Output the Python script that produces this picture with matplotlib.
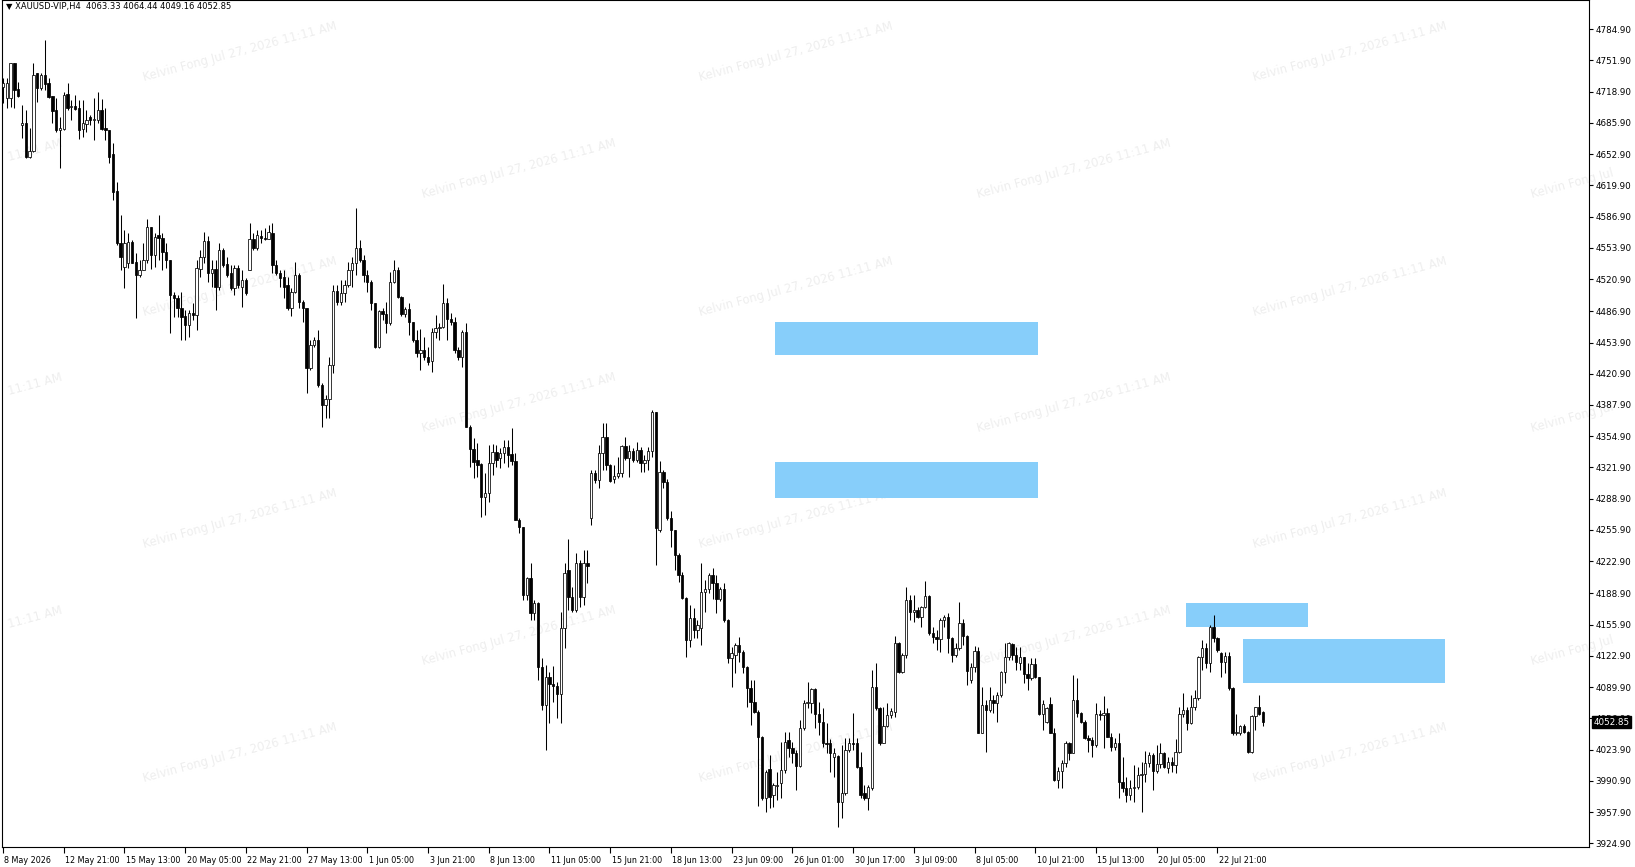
import numpy as np
import matplotlib
matplotlib.use("Agg")
import matplotlib.pyplot as plt
import matplotlib.transforms as mtransforms
from matplotlib.patches import Rectangle

# ---------------- data (XAUUSD-VIP, H4) ----------------
opens = [
    4724.1, 4711.8, 4711.8, 4748.8, 4721.3, 4683.7, 4686.1, 4650.2, 4656.5, 4738.2,
    4722.4, 4736.5, 4727.7, 4714.3, 4699.5, 4678.4, 4679.1, 4716.4, 4702.3, 4703.7,
    4701.3, 4679.1, 4684.7, 4691.7, 4688.9, 4688.9, 4699.5, 4680.1, 4678.4, 4653.0,
    4614.3, 4558.7, 4534.0, 4537.5, 4560.1, 4538.6, 4525.2, 4530.5, 4541.0, 4576.3,
    4546.3, 4567.5, 4563.9, 4549.9, 4541.0, 4504.1, 4500.6, 4490.0, 4481.9, 4472.4,
    4484.7, 4483.0, 4531.2, 4544.6, 4561.5, 4527.7, 4531.2, 4512.9, 4551.6, 4537.0,
    4527.0, 4511.1, 4532.2, 4512.9, 4519.9, 4530.5, 4562.9, 4553.4, 4566.4, 4563.9,
    4562.9, 4569.2, 4535.8, 4527.0, 4522.7, 4514.7, 4490.0, 4507.6, 4525.0, 4497.0,
    4490.0, 4426.6, 4451.3, 4456.6, 4409.0, 4387.9, 4393.9, 4430.1, 4508.3, 4497.0,
    4505.8, 4514.7, 4530.5, 4537.5, 4553.4, 4541.1, 4525.2, 4518.2, 4495.3, 4449.5,
    4487.5, 4484.0, 4474.2, 4518.2, 4530.5, 4502.3, 4484.0, 4488.9, 4475.9, 4456.6,
    4442.5, 4446.0, 4438.2, 4434.7, 4465.4, 4469.6, 4470.6, 4495.3, 4478.4, 4475.9,
    4446.0, 4439.0, 4465.4, 4365.0, 4341.1, 4329.8, 4326.0, 4291.1, 4294.6, 4326.3,
    4338.6, 4331.6, 4336.8, 4343.2, 4336.0, 4329.1, 4266.4, 4259.4, 4187.3, 4204.9,
    4167.9, 4178.5, 4111.6, 4071.1, 4101.0, 4093.2, 4091.1, 4082.3, 4152.0, 4213.7,
    4185.5, 4171.4, 4220.7, 4185.5, 4220.7, 4268.2, 4316.5, 4308.7, 4336.9, 4354.5,
    4324.6, 4309.4, 4313.0, 4315.8, 4344.6, 4331.6, 4339.4, 4329.9, 4340.4, 4326.3,
    4329.9, 4339.4, 4380.9, 4256.0, 4317.5, 4307.0, 4268.2, 4255.9, 4229.5, 4208.4,
    4183.7, 4139.7, 4162.6, 4150.3, 4152.0, 4190.8, 4193.2, 4208.4, 4199.6, 4182.7,
    4193.2, 4160.9, 4120.4, 4124.0, 4134.5, 4127.4, 4111.6, 4088.7, 4074.6, 4064.0,
    4037.6, 3972.4, 4003.0, 3975.9, 3985.4, 3988.3, 4002.4, 4034.1, 4025.3, 4020.0,
    4006.6, 4046.4, 4073.5, 4073.5, 4087.6, 4061.5, 4053.4, 4031.2, 4031.2, 4016.5,
    4017.0, 3968.9, 3977.7, 4023.5, 4031.2, 4030.6, 4005.9, 3977.7, 3972.4, 3983.0,
    4090.4, 4067.5, 4031.2, 4048.9, 4060.5, 4064.0, 4136.9, 4106.2, 4123.9, 4181.9,
    4169.6, 4171.4, 4164.3, 4174.9, 4186.2, 4147.4, 4142.5, 4140.4, 4160.8, 4163.6,
    4141.5, 4123.9, 4130.9, 4158.0, 4143.9, 4097.4, 4110.8, 4128.4, 4041.8, 4071.0,
    4065.8, 4076.3, 4072.8, 4081.6, 4106.2, 4121.4, 4135.5, 4123.9, 4115.0, 4121.4,
    4103.8, 4099.2, 4114.3, 4100.3, 4061.5, 4053.4, 4072.1, 4041.8, 3991.7, 4001.6,
    4010.0, 4031.2, 4020.6, 4076.2, 4062.2, 4053.4, 4035.8, 4034.0, 4028.7, 4061.5,
    4060.4, 4062.2, 4037.5, 4027.0, 4031.2, 3990.0, 3982.9, 3975.9, 3982.9, 3984.7,
    3997.0, 3997.7, 4009.3, 4018.1, 4001.2, 4008.6, 4019.9, 4004.1, 4011.1, 4007.6,
    4021.7, 4061.5, 4065.7, 4052.3, 4068.5, 4078.0, 4121.3, 4130.8, 4115.0, 4153.7,
    4141.4, 4126.0, 4116.7, 4122.7, 4088.6, 4041.0, 4041.0, 4048.8, 4042.8, 4021.7,
    4059.3, 4068.5, 4063.33,
]
highs = [
    4732.9, 4732.9, 4748.8, 4748.8, 4729.4, 4704.8, 4699.5, 4680.1, 4748.8, 4738.2,
    4738.2, 4773.4, 4732.9, 4714.3, 4711.8, 4692.5, 4718.9, 4727.7, 4710.1, 4715.3,
    4710.1, 4710.1, 4699.5, 4694.2, 4711.8, 4718.9, 4710.8, 4701.3, 4678.4, 4664.3,
    4623.8, 4588.6, 4572.7, 4569.2, 4562.2, 4548.1, 4541.0, 4558.7, 4584.0, 4576.3,
    4569.2, 4588.6, 4569.2, 4558.7, 4541.0, 4507.6, 4504.1, 4507.6, 4488.2, 4488.2,
    4495.3, 4541.0, 4551.6, 4571.0, 4566.4, 4541.0, 4541.0, 4558.7, 4553.4, 4544.6,
    4535.8, 4535.8, 4535.8, 4530.5, 4521.7, 4579.8, 4569.2, 4572.7, 4572.7, 4574.5,
    4578.0, 4579.8, 4541.1, 4530.5, 4530.5, 4523.5, 4511.1, 4539.3, 4527.0, 4498.8,
    4490.0, 4456.6, 4460.1, 4467.1, 4410.8, 4398.5, 4439.0, 4514.7, 4514.7, 4519.9,
    4519.9, 4539.3, 4544.6, 4595.6, 4562.2, 4546.3, 4530.5, 4519.9, 4496.0, 4488.2,
    4490.0, 4497.0, 4528.7, 4541.1, 4534.0, 4503.0, 4491.8, 4495.3, 4476.0, 4467.1,
    4467.8, 4460.1, 4449.5, 4468.9, 4483.0, 4474.2, 4515.4, 4500.6, 4484.7, 4481.2,
    4449.5, 4467.1, 4474.9, 4366.8, 4352.7, 4347.4, 4327.0, 4315.7, 4345.6, 4346.7,
    4345.6, 4342.1, 4350.9, 4350.9, 4363.2, 4336.8, 4268.0, 4259.4, 4206.6, 4220.7,
    4182.0, 4180.2, 4120.4, 4113.3, 4106.3, 4112.3, 4095.7, 4169.6, 4220.7, 4246.1,
    4196.1, 4231.3, 4224.0, 4234.8, 4234.8, 4319.3, 4319.3, 4345.7, 4368.6, 4368.6,
    4325.6, 4324.6, 4333.4, 4345.7, 4354.5, 4345.7, 4342.2, 4349.2, 4343.2, 4335.1,
    4344.0, 4382.7, 4380.9, 4329.2, 4319.3, 4309.4, 4276.3, 4256.0, 4231.3, 4211.0,
    4185.0, 4176.7, 4173.2, 4160.9, 4220.7, 4203.1, 4210.9, 4215.4, 4208.4, 4196.1,
    4199.6, 4162.0, 4132.7, 4136.2, 4143.2, 4129.2, 4112.3, 4097.5, 4097.5, 4065.8,
    4038.0, 4002.3, 4018.2, 3988.2, 4000.6, 4032.3, 4042.9, 4042.9, 4032.3, 4023.5,
    4055.2, 4076.3, 4095.7, 4088.6, 4088.6, 4074.6, 4067.5, 4051.7, 4034.8, 4025.3,
    4018.0, 4028.8, 4035.8, 4035.8, 4062.2, 4035.8, 4021.8, 3986.5, 3986.5, 4108.0,
    4115.0, 4069.3, 4069.3, 4072.8, 4067.5, 4143.9, 4137.9, 4125.6, 4196.0, 4187.2,
    4187.2, 4174.9, 4175.6, 4202.4, 4187.2, 4153.8, 4150.3, 4162.6, 4166.1, 4167.9,
    4143.2, 4136.2, 4180.2, 4161.5, 4145.0, 4115.0, 4133.4, 4132.7, 4090.4, 4076.3,
    4090.4, 4081.6, 4085.1, 4107.0, 4136.9, 4137.9, 4136.2, 4132.0, 4132.7, 4122.0,
    4115.0, 4120.3, 4120.3, 4101.0, 4076.3, 4069.3, 4079.1, 4046.4, 4005.8, 4012.9,
    4033.3, 4032.2, 4102.7, 4099.1, 4063.9, 4055.1, 4039.3, 4037.5, 4073.4, 4065.7,
    4080.5, 4067.4, 4041.7, 4035.8, 4041.7, 4016.4, 3995.3, 3991.7, 4007.6, 4005.8,
    4011.1, 4022.7, 4021.7, 4019.9, 4028.7, 4030.5, 4021.7, 4016.4, 4016.4, 4034.7,
    4069.2, 4083.3, 4069.2, 4081.5, 4086.8, 4122.7, 4139.6, 4136.1, 4155.5, 4166.0,
    4143.1, 4127.3, 4127.3, 4127.3, 4089.5, 4061.5, 4049.8, 4050.9, 4043.5, 4060.4,
    4069.2, 4081.5, 4064.44,
]
lows = [
    4706.5, 4701.3, 4703.0, 4701.3, 4713.6, 4669.6, 4648.4, 4648.4, 4655.5, 4708.3,
    4720.6, 4720.6, 4711.8, 4686.1, 4676.6, 4637.9, 4678.4, 4699.5, 4688.9, 4699.5,
    4668.5, 4671.3, 4676.6, 4683.7, 4667.8, 4685.4, 4678.4, 4667.8, 4643.2, 4604.4,
    4556.9, 4530.5, 4511.1, 4532.2, 4537.5, 4479.4, 4523.4, 4530.5, 4537.5, 4531.2,
    4534.0, 4541.0, 4530.5, 4532.2, 4463.6, 4481.2, 4480.5, 4456.5, 4456.5, 4460.1,
    4477.7, 4467.1, 4523.4, 4537.5, 4518.2, 4512.9, 4488.2, 4509.4, 4534.0, 4523.4,
    4509.4, 4504.1, 4511.1, 4491.8, 4504.1, 4530.5, 4551.6, 4551.6, 4558.7, 4562.2,
    4562.9, 4527.0, 4525.2, 4512.9, 4500.6, 4488.2, 4481.9, 4505.8, 4490.0, 4475.9,
    4400.2, 4424.9, 4449.5, 4407.3, 4365.0, 4373.8, 4373.8, 4421.3, 4493.5, 4493.5,
    4497.0, 4512.9, 4512.9, 4525.2, 4539.3, 4518.2, 4507.6, 4488.2, 4447.8, 4447.8,
    4477.7, 4463.6, 4472.4, 4516.4, 4500.6, 4481.9, 4481.2, 4461.8, 4454.8, 4439.0,
    4424.9, 4435.4, 4430.1, 4423.1, 4458.3, 4456.6, 4468.9, 4456.6, 4472.4, 4442.5,
    4435.4, 4428.4, 4365.0, 4322.8, 4310.4, 4312.2, 4269.9, 4271.7, 4285.8, 4313.9,
    4322.8, 4321.0, 4326.3, 4322.8, 4324.5, 4266.0, 4252.4, 4182.0, 4182.0, 4160.9,
    4160.9, 4097.5, 4065.8, 4023.5, 4051.7, 4074.6, 4057.0, 4051.7, 4130.9, 4171.4,
    4169.6, 4169.6, 4174.0, 4176.7, 4200.3, 4261.2, 4305.9, 4299.9, 4319.3, 4319.3,
    4307.0, 4305.2, 4310.5, 4312.3, 4329.9, 4312.3, 4328.1, 4328.1, 4317.5, 4317.5,
    4319.3, 4333.4, 4218.9, 4254.2, 4299.9, 4266.5, 4238.3, 4213.7, 4201.3, 4182.7,
    4122.1, 4132.7, 4141.5, 4141.5, 4134.5, 4169.6, 4189.0, 4182.7, 4168.6, 4181.3,
    4159.1, 4115.1, 4090.4, 4104.5, 4116.8, 4104.5, 4069.3, 4050.0, 4062.3, 3964.0,
    3970.6, 3958.3, 3961.8, 3963.6, 3970.6, 3972.4, 3998.9, 4016.5, 4009.4, 3981.2,
    4005.9, 4044.6, 4067.5, 4062.2, 4046.4, 4039.3, 4027.0, 4020.0, 4000.6, 3995.3,
    3942.5, 3951.3, 3976.0, 4021.8, 4023.5, 4004.1, 3972.4, 3970.7, 3960.1, 3981.2,
    4065.8, 4028.8, 4030.6, 4048.2, 4057.0, 4058.7, 4104.5, 4104.5, 4120.3, 4160.8,
    4159.1, 4162.6, 4153.8, 4173.1, 4145.0, 4136.2, 4129.1, 4127.4, 4153.8, 4126.3,
    4116.8, 4122.1, 4129.1, 4134.4, 4092.2, 4093.9, 4106.2, 4041.1, 4041.1, 4021.8,
    4064.0, 4062.2, 4053.4, 4079.8, 4093.9, 4118.6, 4118.6, 4108.0, 4108.0, 4093.9,
    4086.9, 4097.4, 4099.0, 4060.5, 4044.6, 4051.7, 4041.8, 3991.1, 3982.9, 3982.9,
    4005.8, 4012.9, 4019.9, 4058.6, 4051.6, 4034.7, 4021.7, 4016.4, 4027.0, 4055.1,
    4025.2, 4036.8, 4022.7, 4023.4, 3972.4, 3979.4, 3968.9, 3970.6, 3968.9, 3981.9,
    3958.3, 3990.0, 4005.8, 3981.2, 3998.8, 4004.1, 4004.1, 3998.8, 4000.5, 3998.8,
    4020.6, 4057.9, 4044.6, 4050.9, 4065.7, 4076.2, 4107.9, 4109.7, 4106.2, 4137.9,
    4127.3, 4100.2, 4104.4, 4086.8, 4039.3, 4039.3, 4039.3, 4041.0, 4020.6, 4020.6,
    4044.6, 4060.4, 4049.16,
]
closes = [
    4727.7, 4727.7, 4748.8, 4720.6, 4714.6, 4686.1, 4650.2, 4656.5, 4736.5, 4722.4,
    4736.5, 4727.0, 4713.6, 4698.8, 4678.4, 4680.1, 4715.3, 4701.3, 4704.1, 4700.9,
    4678.4, 4685.4, 4688.9, 4688.9, 4689.6, 4699.5, 4679.8, 4678.4, 4650.2, 4613.2,
    4558.7, 4544.6, 4558.7, 4560.1, 4537.5, 4525.2, 4530.5, 4541.0, 4576.3, 4546.3,
    4565.7, 4563.9, 4549.9, 4541.0, 4504.1, 4500.6, 4490.0, 4481.2, 4472.4, 4484.7,
    4483.0, 4532.2, 4544.6, 4561.5, 4527.0, 4531.2, 4512.9, 4551.6, 4535.8, 4525.2,
    4511.1, 4532.2, 4514.6, 4519.9, 4505.8, 4562.9, 4553.4, 4567.5, 4563.9, 4562.9,
    4571.0, 4535.8, 4527.0, 4521.7, 4512.9, 4490.0, 4507.6, 4525.0, 4497.0, 4490.0,
    4426.6, 4451.3, 4456.6, 4409.0, 4387.9, 4393.9, 4430.1, 4508.3, 4497.0, 4505.8,
    4514.7, 4530.5, 4537.5, 4553.4, 4541.1, 4525.2, 4518.2, 4495.3, 4449.5, 4487.5,
    4484.0, 4474.2, 4518.2, 4530.5, 4502.3, 4484.0, 4488.9, 4475.9, 4456.6, 4442.5,
    4446.0, 4438.2, 4433.7, 4465.4, 4469.6, 4470.6, 4495.3, 4478.4, 4475.9, 4446.0,
    4439.0, 4465.4, 4365.0, 4341.1, 4328.0, 4324.5, 4291.1, 4294.6, 4326.3, 4338.6,
    4329.8, 4336.8, 4343.2, 4335.1, 4329.1, 4266.4, 4259.4, 4187.3, 4204.9, 4167.9,
    4178.5, 4111.6, 4071.1, 4101.0, 4093.2, 4091.1, 4082.3, 4152.0, 4210.9, 4185.5,
    4171.4, 4220.7, 4185.5, 4220.7, 4218.2, 4316.5, 4308.7, 4336.9, 4354.5, 4324.6,
    4308.0, 4313.0, 4315.8, 4344.6, 4331.6, 4339.4, 4329.9, 4340.4, 4326.3, 4329.9,
    4339.4, 4380.9, 4257.7, 4317.5, 4307.0, 4268.2, 4255.9, 4229.5, 4208.4, 4183.7,
    4139.7, 4162.6, 4150.3, 4155.6, 4190.8, 4193.2, 4208.4, 4199.6, 4182.7, 4193.2,
    4160.9, 4120.4, 4125.6, 4134.5, 4127.4, 4111.6, 4088.7, 4074.6, 4064.0, 4037.6,
    3972.4, 4000.6, 3974.2, 3986.5, 3986.5, 4002.4, 4032.3, 4025.3, 4020.0, 4006.6,
    4046.4, 4073.5, 4074.6, 4087.6, 4061.5, 4053.4, 4031.2, 4029.5, 4020.0, 4020.7,
    3968.9, 3977.7, 4023.5, 4030.6, 4029.5, 4005.9, 3976.0, 3972.4, 3984.1, 4090.4,
    4067.5, 4030.6, 4048.9, 4060.5, 4065.1, 4136.9, 4106.2, 4123.9, 4181.9, 4169.6,
    4171.4, 4164.3, 4174.9, 4186.2, 4147.4, 4142.5, 4140.4, 4160.8, 4163.6, 4141.5,
    4123.9, 4130.9, 4158.0, 4143.9, 4107.3, 4110.8, 4128.4, 4041.8, 4071.0, 4065.8,
    4076.3, 4072.8, 4081.6, 4106.2, 4121.4, 4136.2, 4123.9, 4116.8, 4121.4, 4103.8,
    4099.2, 4114.3, 4100.3, 4061.5, 4072.1, 4067.5, 4041.8, 3991.8, 4001.6, 4010.0,
    4031.2, 4020.6, 4076.2, 4062.2, 4053.4, 4035.8, 4034.0, 4028.7, 4061.5, 4060.4,
    4062.2, 4037.5, 4027.0, 4031.2, 3990.0, 3982.9, 3975.9, 3982.9, 3984.7, 3997.0,
    3997.7, 4009.3, 4018.1, 4001.2, 4008.6, 4019.9, 4005.8, 4011.1, 4007.6, 4021.7,
    4061.5, 4065.7, 4052.3, 4068.5, 4078.0, 4121.3, 4130.8, 4115.0, 4153.7, 4141.4,
    4129.1, 4116.7, 4122.7, 4088.6, 4041.0, 4042.4, 4048.8, 4042.8, 4021.7, 4059.3,
    4068.5, 4061.5, 4052.85,
]

# price-axis labels (right side)
price_ticks = [4784.90, 4751.90, 4718.90, 4685.90, 4652.90, 4619.90, 4586.90,
               4553.90, 4520.90, 4486.90, 4453.90, 4420.90, 4387.90, 4354.90,
               4321.90, 4288.90, 4255.90, 4222.90, 4188.90, 4155.90, 4122.90,
               4089.90, 4056.90, 4023.90, 3990.90, 3957.90, 3924.90]

# time-axis labels (every 16 bars)
time_labels = ["8 May 2026", "12 May 21:00", "15 May 13:00", "20 May 05:00",
               "22 May 21:00", "27 May 13:00", "1 Jun 05:00", "3 Jun 21:00",
               "8 Jun 13:00", "11 Jun 05:00", "15 Jun 21:00", "18 Jun 13:00",
               "23 Jun 09:00", "26 Jun 01:00", "30 Jun 17:00", "3 Jul 09:00",
               "8 Jul 05:00", "10 Jul 21:00", "15 Jul 13:00", "20 Jul 05:00",
               "22 Jul 21:00"]
label_step = 16

# supply/demand zones: bar index start/end, price low/high
zone_x0 = [203.4, 203.4, 311.7, 326.8]
zone_x1 = [272.7, 272.7, 344.0, 380.0]
zone_lo = [4440.7, 4290.0, 4153.1, 4094.6]
zone_hi = [4475.3, 4327.4, 4179.1, 4140.7]

title = "XAUUSD-VIP,H4  4063.33 4064.44 4049.16 4052.85"
last_price = 4052.85
watermark = "Kelvin Fong Jul 27, 2026 11:11 AM"
watermark_left_part = "11:11 AM"
watermark_right_part = "Kelvin Fong Jul"

# ---------------- figure ----------------
W, H = 1635, 867
fig = plt.figure(figsize=(W / 100, H / 100), dpi=100, facecolor="white")

ax_left_px, ax_right_px, ax_bottom_px = 2, 1589, 847
ax = fig.add_axes([ax_left_px / W, (H - ax_bottom_px) / H,
                   (ax_right_px - ax_left_px) / W, ax_bottom_px / H])
ax.set_facecolor("none")

# watermark grid (behind everything)
WM_COLOR = "#eeeeee"
WM_SIZE = 8.4
ANG = 15.0
half_len = 101.0  # px, half of the watermark length along its baseline
dx = half_len * np.cos(np.radians(ANG))
dy = half_len * np.sin(np.radians(ANG))
wm_even_y = [52, 287, 519, 753]
wm_even_x = [240, 796, 1350]
wm_odd_y = [169, 403, 636]
wm_odd_x = [519, 1074]
for ys, xs in ((wm_even_y, wm_even_x), (wm_odd_y, wm_odd_x)):
    for yy in ys:
        for xx in xs:
            fig.text(xx / W, 1 - yy / H, watermark, rotation=ANG,
                     ha="center", va="center", fontsize=WM_SIZE,
                     color=WM_COLOR, family="DejaVu Sans", zorder=-5)
for yy in wm_odd_y:
    # partial watermark at the left edge (tail of the text)
    cx = -36
    fig.text((cx + dx) / W, 1 - (yy - dy) / H, watermark_left_part,
             rotation=ANG, rotation_mode="anchor", ha="right", va="center",
             fontsize=WM_SIZE, color=WM_COLOR, family="DejaVu Sans", zorder=-5)
    # partial watermark at the right edge (head of the text)
    cx = 1629
    fig.text((cx - dx) / W, 1 - (yy + dy) / H, watermark_right_part,
             rotation=ANG, rotation_mode="anchor", ha="left", va="center",
             fontsize=WM_SIZE, color=WM_COLOR, family="DejaVu Sans", zorder=-5)

o = np.array(opens); h = np.array(highs); l = np.array(lows); c = np.array(closes)
n = len(o)
x = np.arange(n)
up = c >= o

hi = np.maximum(h, np.maximum(o, c))
lo = np.minimum(l, np.minimum(o, c))
ax.vlines(x, lo, hi, color="black", linewidth=0.75, zorder=2)
body_bot = np.minimum(o, c)
body_h = np.maximum(np.abs(c - o), 0.8)
ax.bar(x, body_h, bottom=body_bot, width=0.62,
       color=np.where(up, "white", "black"), edgecolor="black",
       linewidth=0.55, zorder=3)

for x0, x1, y0, y1 in zip(zone_x0, zone_x1, zone_lo, zone_hi):
    ax.add_patch(Rectangle((x0, y0), x1 - x0, y1 - y0,
                           facecolor="#87CEFA", edgecolor="none", zorder=1.5))

px_per_bar = 3.795
x_first_px = 3.0
ax.set_xlim((ax_left_px - x_first_px) / px_per_bar,
            (ax_right_px - x_first_px) / px_per_bar)
ax.set_ylim(3921.0, 4815.7)

# right price axis
ax.yaxis.tick_right()
ax.set_yticks(price_ticks)
ax.set_yticklabels([f"{p:.2f}" for p in price_ticks])
ax.tick_params(axis="y", direction="out", length=3, width=0.8, pad=1.5,
               labelsize=6.3, colors="black")

# bottom time axis
tick_idx = [i * label_step for i in range(len(time_labels))]
ax.set_xticks(tick_idx)
ax.set_xticklabels(time_labels)
ax.tick_params(axis="x", direction="out", length=4, width=0.8, pad=2.5,
               labelsize=5.8, colors="black")
offset = mtransforms.ScaledTranslation(1.5 / 100, 0, fig.dpi_scale_trans)
for lab in ax.get_xticklabels():
    lab.set_horizontalalignment("left")
    lab.set_transform(lab.get_transform() + offset)

for sp in ax.spines.values():
    sp.set_color("black")
    sp.set_linewidth(0.8)

# title in chart
ax.text(4 / (ax_right_px - ax_left_px), 1 - 7 / ax_bottom_px,
        "\u25BC " + title, transform=ax.transAxes, ha="left", va="center",
        fontsize=6.0, color="black", family="DejaVu Sans", zorder=6)

# current price tag
ax.annotate(f"{last_price:.2f}", xy=(1, last_price),
            xycoords=("axes fraction", "data"),
            xytext=(3, 0), textcoords="offset points", ha="left", va="center",
            fontsize=6.3, color="white", zorder=10, annotation_clip=False,
            bbox=dict(boxstyle="square,pad=0.18", facecolor="black",
                      edgecolor="black"))

fig.savefig("out.png", dpi=100, facecolor="white")
